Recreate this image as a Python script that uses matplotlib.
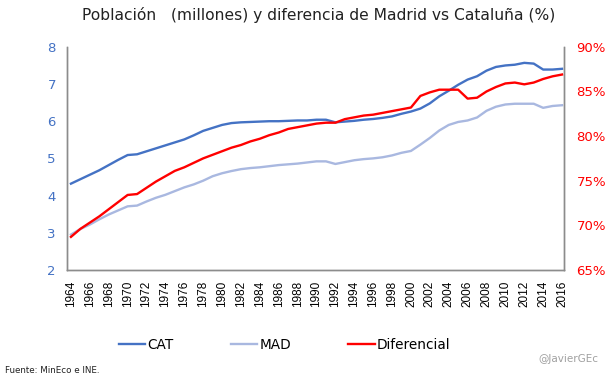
import matplotlib
matplotlib.use("Agg")
import matplotlib.pyplot as plt
from matplotlib.ticker import FuncFormatter

years = list(range(1964, 2017))

cat = [4.32, 4.44, 4.56, 4.68, 4.82, 4.96, 5.09, 5.11, 5.19, 5.27,
       5.35, 5.43, 5.51, 5.62, 5.74, 5.82, 5.90, 5.95, 5.97, 5.98,
       5.99, 6.00, 6.00, 6.01, 6.02, 6.02, 6.04, 6.04, 5.97, 5.99,
       6.01, 6.04, 6.06, 6.09, 6.13, 6.20, 6.26, 6.34, 6.48, 6.67,
       6.82, 6.98, 7.12, 7.21, 7.36, 7.46, 7.50, 7.52, 7.57, 7.55,
       7.39, 7.39, 7.41]

mad = [2.95, 3.10, 3.22, 3.36, 3.49, 3.60, 3.71, 3.73, 3.84, 3.94,
       4.02, 4.12, 4.22, 4.30, 4.40, 4.52, 4.60, 4.66, 4.71, 4.74,
       4.76, 4.79, 4.82, 4.84, 4.86, 4.89, 4.92, 4.92, 4.85, 4.90,
       4.95, 4.98, 5.00, 5.03, 5.08, 5.15, 5.20, 5.37, 5.55, 5.75,
       5.90, 5.98, 6.02, 6.10, 6.28, 6.39, 6.45, 6.47, 6.47, 6.47,
       6.36, 6.41, 6.43]

# diferencial en %, eje derecho
dif = [68.7, 69.6, 70.3, 71.0, 71.8, 72.6, 73.4, 73.5, 74.2, 74.9,
       75.5, 76.1, 76.5, 77.0, 77.5, 77.9, 78.3, 78.7, 79.0, 79.4,
       79.7, 80.1, 80.4, 80.8, 81.0, 81.2, 81.4, 81.5, 81.5, 81.9,
       82.1, 82.3, 82.4, 82.6, 82.8, 83.0, 83.2, 84.5, 84.9, 85.2,
       85.2, 85.2, 84.2, 84.3, 85.0, 85.5, 85.9, 86.0, 85.8, 86.0,
       86.4, 86.7, 86.9]

c_cat = "#4472C4"
c_mad = "#A9B8E0"
c_dif = "#FF0000"
tick_font = "Liberation Sans"
text_font = "DejaVu Sans"

fig = plt.figure(figsize=(6.09, 3.78), dpi=100)
ax = fig.add_axes([0.110, 0.286, 0.816, 0.590])
ax2 = ax.twinx()

l1, = ax.plot(years, cat, color=c_cat, lw=1.7, label="CAT")
l2, = ax.plot(years, mad, color=c_mad, lw=1.7, label="MAD")
l3, = ax2.plot(years, dif, color=c_dif, lw=1.7, label="Diferencial")

ax.set_xlim(1963.58, 2016.2)
ax.set_ylim(2, 8)
ax2.set_ylim(65, 90)
ax.set_xticks(years[::2])
ax.set_xticklabels([str(y) for y in years[::2]], rotation=90,
                   fontsize=8.5, family=tick_font)
ax.set_yticks(range(2, 9))
ax2.set_yticks(range(65, 91, 5))
ax2.yaxis.set_major_formatter(FuncFormatter(lambda v, p: f"{v:.0f}%"))

for a in (ax, ax2):
    a.spines["top"].set_visible(False)
    for s in ("left", "right", "bottom"):
        a.spines[s].set_color("#8c8c8c")
        a.spines[s].set_linewidth(1.0)
    a.tick_params(length=0)

ax.tick_params(axis="y", colors=c_cat, labelsize=9.5, pad=8)
ax.tick_params(axis="x", pad=8)
ax2.tick_params(axis="y", colors=c_dif, labelsize=9.5, pad=9)
for t in ax.get_yticklabels() + ax2.get_yticklabels():
    t.set_family(text_font)

fig.text(0.523, 0.961, "Población   (millones) y diferencia de Madrid vs Cataluña (%)",
         ha="center", va="center", fontsize=11.2, family=text_font, color="#222222")

fig.legend(handles=[l1, l2, l3], loc="center", bbox_to_anchor=(0.467, 0.087),
           ncol=3, frameon=False, handlelength=1.95,
           handletextpad=0.15, columnspacing=4.2,
           prop={"family": text_font, "size": 9.8})

fig.text(0.982, 0.050, "@JavierGEc", ha="right", va="center",
         fontsize=7.5, color="#a0a0a0", family=text_font)
fig.text(0.008, 0.021, "Fuente: MinEco e INE.", ha="left", va="center",
         fontsize=6.3, color="#222222", family=text_font)

fig.savefig("out.png", dpi=100)
